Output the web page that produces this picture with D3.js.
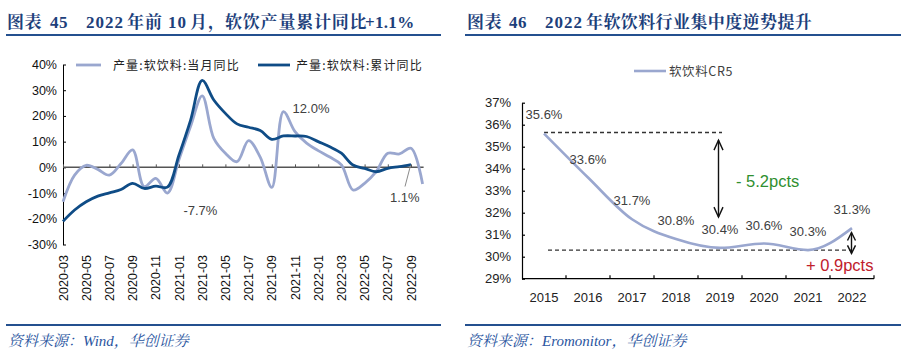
<!DOCTYPE html>
<html><head><meta charset="utf-8">
<script src="https://cdn.jsdelivr.net/npm/d3@7"></script>
<style>
html,body{margin:0;padding:0;background:#fff;}
svg{display:block;}
</style></head>
<body>
<svg id="c" width="908" height="360"></svg>
<script>
// ---------- data: left chart ----------
const months = ["2020-03","2020-04","2020-05","2020-06","2020-07","2020-08","2020-09","2020-10","2020-11","2020-12",
  "2021-01","2021-02","2021-03","2021-04","2021-05","2021-06","2021-07","2021-08","2021-09","2021-10","2021-11","2021-12",
  "2022-01","2022-02","2022-03","2022-04","2022-05","2022-06","2022-07","2022-08","2022-09","2022-10"];
const monthlyYoY = [-13.4,-3.0,0.8,-0.8,-3.0,1.5,6.8,-7.5,-4.3,-10.0,
  3.0,16.0,27.8,11.3,5.5,2.2,10.4,4.0,-7.8,21.7,13.9,9.4,
  6.5,4.0,1.0,-8.8,-6.2,-1.7,5.5,5.2,7.4,-6.5];
const cumulativeYoY = [-21.0,-16.6,-13.4,-11.2,-9.9,-8.6,-6.2,-8.2,-7.3,-7.7,
  4.8,18.4,33.8,26.2,21.0,16.9,15.6,14.3,10.9,12.2,12.2,12.0,
  10.0,8.0,5.5,0.9,-0.4,-1.7,-0.4,0.3,1.1];
const leftYTicks = [-30,-20,-10,0,10,20,30,40];
const leftXTickLabels = ["2020-03","2020-05","2020-07","2020-09","2020-11","2021-01","2021-03","2021-05","2021-07","2021-09","2021-11","2022-01","2022-03","2022-05","2022-07","2022-09"];
const leftSeriesNames = ["产量:软饮料:当月同比","产量:软饮料:累计同比"];
const leftLabelMonths = ["2020-12","2021-12","2022-09"];

// ---------- data: right chart ----------
const years = ["2015","2016","2017","2018","2019","2020","2021","2022"];
const cr5 = [35.6,33.6,31.7,30.8,30.4,30.6,30.3,31.3];
const rightYTicks = [29,30,31,32,33,34,35,36,37];
const rightSeriesName = "软饮料CR5";
const annoDown = "- 5.2pcts";
const annoUp = "+ 0.9pcts";

const svg = d3.select("#c");
const titleColor = "#1d3f7b";
const ruleColor = "#24508f";
const lightColor = "#9aa7cf";
const darkColor = "#0f4c86";
const txt = "#404040";
const sansF = "'Liberation Sans', Arial, 'Noto Sans CJK SC', sans-serif";
const serifF = "'Liberation Serif', 'Noto Serif CJK SC', 'Noto Sans CJK SC', serif";

// ---------- headers / footers ----------
// title pieces: [text, x, letter-spacing]
const leftTitle = [["图表",7,0.5],["45",50,0.5],["2022",86,1],["年前",127,1],["10",168,1],["月",190,0],["，",208,0],["软饮产量累计同比",225,0.8],["+1.1%",365,0.3]];
const rightTitle = [["图表",467,0.5],["46",509,0.5],["2022",545,1],["年软饮料行业集中度逆势提升",586,0.4]];
function frame(x0, x1, title, source){
  const t = svg.append("text").attr("y", 28)
    .attr("font-family", serifF).attr("font-weight", "bold").attr("font-size", 17)
    .attr("fill", titleColor);
  title.forEach(p => t.append("tspan").attr("x", p[1]).attr("letter-spacing", p[2]).text(p[0]));
  svg.append("line").attr("x1", x0).attr("x2", x1).attr("y1", 35).attr("y2", 35)
    .attr("stroke", ruleColor).attr("stroke-width", 2);
  svg.append("line").attr("x1", x0).attr("x2", x1).attr("y1", 325).attr("y2", 325)
    .attr("stroke", ruleColor).attr("stroke-width", 2);
  svg.append("text").attr("x", x0+2).attr("y", 346)
    .attr("font-family", serifF).attr("font-style", "italic").attr("font-size", 15)
    .attr("fill", "#2a55a0").text(source);
}
frame(6, 441, leftTitle, "资料来源：Wind，华创证券");
frame(465, 901, rightTitle, "资料来源：Eromonitor，华创证券");

// ---------- left chart ----------
{
  const x = d3.scalePoint().domain(months).range([63, 63 + 31*11.6]);
  const y = d3.scaleLinear().domain([-30, 40]).range([244.5, 64.5]);
  const g = svg.append("g");

  const ya = d3.axisLeft(y).tickValues(leftYTicks).tickFormat(d => d + "%")
    .tickSizeInner(-3).tickSizeOuter(0).tickPadding(6);
  const yg = g.append("g").attr("transform", "translate(63,0)").call(ya);
  yg.selectAll("path,line").attr("stroke", "#000").attr("stroke-width", 1);
  yg.selectAll("text").attr("font-family", sansF).attr("font-size", 12.5).attr("fill", "#111");

  const xa = d3.axisBottom(x).tickValues(leftXTickLabels).tickSizeInner(-3).tickSizeOuter(0).tickFormat("");
  const xg = g.append("g").attr("transform", `translate(0,${y(0)})`).call(xa);
  xg.select("path").attr("stroke", "#555").attr("stroke-width", 1.5).attr("d", `M63,0H${x(months[months.length-1])+1}`);
  xg.selectAll("line").attr("stroke", "#555");

  g.append("g").selectAll("text").data(leftXTickLabels).join("text")
    .attr("transform", d => `translate(${x(d)+4.5},255) rotate(-90)`)
    .attr("text-anchor", "end").attr("font-family", sansF).attr("font-size", 12.5).attr("fill", "#111")
    .text(d => d);

  const line = d3.line().x(d => x(d.m)).y(d => y(d.v)).curve(d3.curveCatmullRom.alpha(0.5));
  const s1 = months.map((m,i) => ({m, v: monthlyYoY[i]}));
  const s2 = cumulativeYoY.map((v,i) => ({m: months[i], v}));
  g.append("path").attr("d", line(s1)).attr("fill", "none").attr("stroke", lightColor).attr("stroke-width", 2.8);
  g.append("path").attr("d", line(s2)).attr("fill", "none").attr("stroke", darkColor).attr("stroke-width", 2.8);

  const offs = {"2020-12": [16, 28, "start"], "2021-12": [-14, -24, "start"], "2022-09": [-21, 37, "start"]};
  leftLabelMonths.forEach(m => {
    const i = months.indexOf(m);
    const v = cumulativeYoY[i];
    const o = offs[m];
    g.append("text").attr("x", x(m) + o[0]).attr("y", y(v) + o[1])
      .attr("text-anchor", o[2]).attr("font-family", sansF).attr("font-size", 13).attr("fill", txt)
      .text(v.toFixed(1) + "%");
  });
  const lm = leftLabelMonths[2];
  g.append("line").attr("x1", x(lm) - 0.5).attr("y1", y(cumulativeYoY[months.indexOf(lm)]) + 1)
    .attr("x2", x(lm) - 6).attr("y2", y(cumulativeYoY[months.indexOf(lm)]) + 22)
    .attr("stroke", "#8a8a8a").attr("stroke-width", 1);

  const lg = g.append("g");
  [[76, 101, 113, lightColor], [258, 290, 296, darkColor]].forEach((p, i) => {
    lg.append("line").attr("x1", p[0]).attr("x2", p[1]).attr("y1", 65).attr("y2", 65)
      .attr("stroke", p[3]).attr("stroke-width", 2.8);
    lg.append("text").attr("x", p[2]).attr("y", 69.5).attr("font-family", "'Noto Sans CJK SC', sans-serif")
      .attr("font-size", 12).attr("letter-spacing", 1.1).attr("fill", "#222").text(leftSeriesNames[i]);
  });
}

// ---------- right chart ----------
{
  const x = d3.scaleBand().domain(years).range([522, 874]).padding(0);
  const cx = d => x(d) + x.bandwidth()/2;
  const y = d3.scaleLinear().domain([29, 37]).range([278.7, 102.7]);
  const g = svg.append("g");

  const ya = d3.axisLeft(y).tickValues(rightYTicks).tickFormat(d => d + "%")
    .tickSizeInner(-3).tickSizeOuter(0).tickPadding(11);
  const yg = g.append("g").attr("transform", "translate(522,0)").call(ya);
  yg.selectAll("path,line").attr("stroke", "#000").attr("stroke-width", 1.2);
  yg.selectAll("text").attr("font-family", sansF).attr("font-size", 13).attr("fill", "#222");

  const xg = g.append("g").attr("transform", `translate(0,${y(29)})`);
  xg.append("line").attr("x1", 522).attr("x2", 874).attr("stroke", "#000").attr("stroke-width", 1.2);
  xg.selectAll("line.t").data(years.slice(1).concat(["end"])).join("line").attr("class", "t")
    .attr("x1", d => d === "end" ? 874 : x(d)).attr("x2", d => d === "end" ? 874 : x(d))
    .attr("y1", 0).attr("y2", -3.5).attr("stroke", "#000").attr("stroke-width", 1.2);
  xg.selectAll("text").data(years).join("text").attr("x", d => cx(d)).attr("y", 23)
    .attr("text-anchor", "middle").attr("font-family", sansF).attr("font-size", 13).attr("fill", "#222").text(d => d);

  g.append("line").attr("x1", cx(years[0])).attr("x2", cx("2019") + 2)
    .attr("y1", y(cr5[0]) - 1).attr("y2", y(cr5[0]) - 1)
    .attr("stroke", "#333").attr("stroke-width", 1.3).attr("stroke-dasharray", "4,3");
  g.append("line").attr("x1", cx(years[0]) + 4).attr("x2", cx("2022"))
    .attr("y1", y(d3.min(cr5))).attr("y2", y(d3.min(cr5)))
    .attr("stroke", "#333").attr("stroke-width", 1.3).attr("stroke-dasharray", "4,3");

  const line = d3.line().x(d => cx(d.y)).y(d => y(d.v)).curve(d3.curveMonotoneX);
  g.append("path").attr("d", line(years.map((yr,i) => ({y: yr, v: cr5[i]}))))
    .attr("fill", "none").attr("stroke", lightColor).attr("stroke-width", 2.6);

  g.selectAll("text.lab").data(years).join("text").attr("class", "lab")
    .attr("x", d => cx(d)).attr("y", (d,i) => y(cr5[i]) - (i === 0 ? 15 : 14))
    .attr("text-anchor", "middle").attr("font-family", sansF).attr("font-size", 13).attr("fill", txt)
    .text((d,i) => cr5[i].toFixed(1) + "%");

  function dblArrow(xp, y1, y2, hw, hl){
    g.append("line").attr("x1", xp).attr("x2", xp).attr("y1", y1).attr("y2", y2).attr("stroke", "#111").attr("stroke-width", 1.4);
    g.append("path").attr("d", `M${xp-hw},${y1+hl}L${xp},${y1}L${xp+hw},${y1+hl}`).attr("fill", "none").attr("stroke", "#111").attr("stroke-width", 1.4);
    g.append("path").attr("d", `M${xp-hw},${y2-hl}L${xp},${y2}L${xp+hw},${y2-hl}`).attr("fill", "none").attr("stroke", "#111").attr("stroke-width", 1.4);
  }
  dblArrow(cx("2019") - 1.5, y(35.3), y(31.8), 4.5, 10);
  dblArrow(cx("2022") - 0.5, y(31.1), y(30.15), 4, 8);

  g.append("text").attr("x", 736).attr("y", y(33.45) + 6).attr("font-family", sansF).attr("font-size", 16.5)
    .attr("fill", "#2f8f2f").attr("xml:space","preserve").text(annoDown);
  g.append("text").attr("x", 806).attr("y", y(29.62) + 6).attr("font-family", sansF).attr("font-size", 16.5)
    .attr("fill", "#c0202c").attr("xml:space","preserve").text(annoUp);

  g.append("line").attr("x1", 634).attr("x2", 666).attr("y1", 71).attr("y2", 71).attr("stroke", lightColor).attr("stroke-width", 2.6);
  g.append("text").attr("x", 669).attr("y", 75.5).attr("font-family", "'Noto Sans CJK SC', sans-serif")
    .attr("font-size", 12.5).attr("letter-spacing", 0.6).attr("fill", txt).text(rightSeriesName);
}
</script>
</body></html>
